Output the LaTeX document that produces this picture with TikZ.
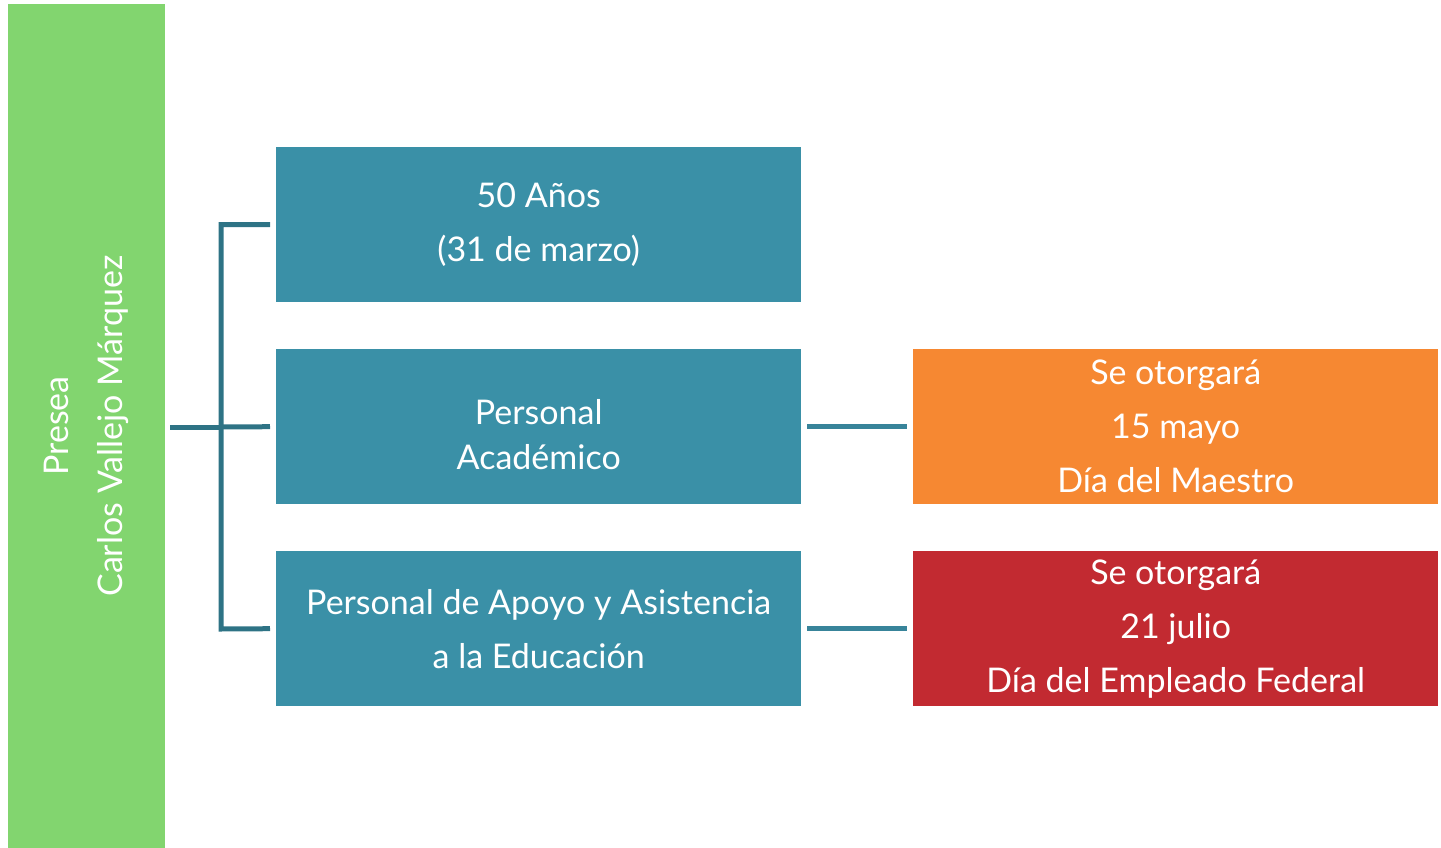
\documentclass[tikz,border=0pt]{standalone}
\usepackage{fontspec}
\setmainfont{Lato}
\definecolor{greenbar}{HTML}{82D56F}
\definecolor{tealbox}{HTML}{3A90A7}
\definecolor{tealline}{HTML}{2E7385}
\definecolor{tealline2}{HTML}{38849A}
\definecolor{orangebox}{HTML}{F68832}
\definecolor{redbox}{HTML}{C22A31}
\begin{document}
\begin{tikzpicture}[x=1pt,y=-1pt,
  txt/.style={text=white,align=center,font=\fontsize{34}{54}\selectfont},
  box/.style={txt,minimum width=525pt,minimum height=155pt,inner sep=0pt,anchor=north west},
  conn/.style={line width=5pt,tealline},
  conn2/.style={line width=5.5pt,tealline2}]
\useasboundingbox (0,0) rectangle (1441,848);
\fill[greenbar] (8,4) rectangle (165,848);
\node[rotate=90,txt] (title) at (86,426) {Presea\\Carlos Vallejo Márquez};
\node[box,fill=tealbox] (b1) at (276,147) {50 Años\\(31 de marzo)};
\node[box,fill=tealbox] (b2) at (276,349) {};
\node[txt,font=\fontsize{34}{45}\selectfont] (b2t) at ([yshift=-8pt]b2.center) {Personal\\Académico};
\node[box,fill=tealbox] (b3) at (276,551) {Personal de Apoyo y Asistencia\\a la Educación};
\node[box,fill=orangebox] (o1) at (913,349) {Se otorgará\\15 mayo\\Día del Maestro};
\node[box,fill=redbox] (r1) at (913,551) {Se otorgará\\21 julio\\Día del Empleado Federal};
\coordinate (j) at (221,427);
\draw[conn] (170,427) -- (j);
\draw[conn] ([xshift=-6pt]b1.west) -| (221,629) -- ([xshift=-6pt]b3.west);
\draw[conn] (j) -- ([xshift=-6pt]b2.west);
\draw[conn2] ([xshift=6pt]b2.east) -- ([xshift=-6pt]o1.west);
\draw[conn2] ([xshift=6pt]b3.east) -- ([xshift=-6pt]r1.west);
\end{tikzpicture}
\end{document}
